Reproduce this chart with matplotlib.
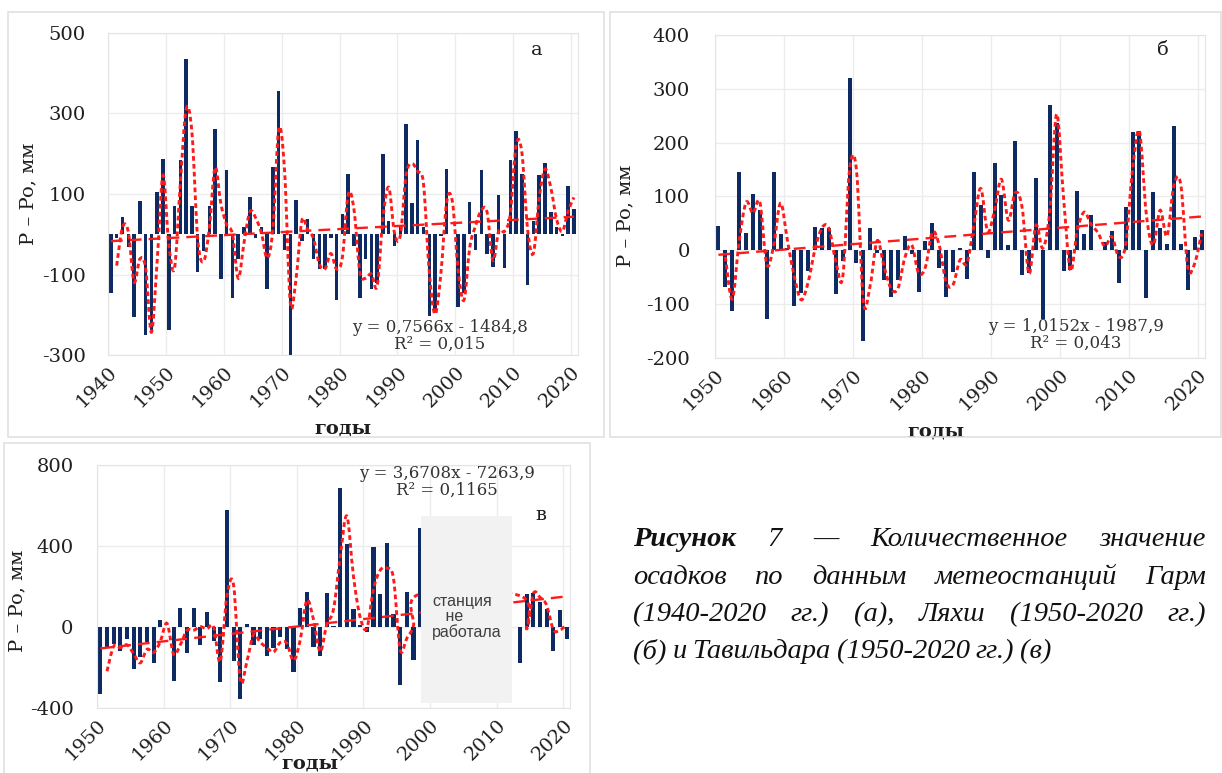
import numpy as np
import matplotlib
matplotlib.use("Agg")
import matplotlib.pyplot as plt
from matplotlib.path import Path
from matplotlib.patches import PathPatch, Rectangle

W, H = 1222, 773
plt.rcParams['font.family'] = ['DejaVu Serif']
plt.rcParams['axes.unicode_minus'] = False

# --- data: P - Po, mm ---
years_a = np.arange(1940, 2021)
garm = [-146, -10, 44, -31, -206, 83, -250, -237, 106, 187,
        -237, 70, 185, 436, 70, -94, -42, 70, 262, -111,
        159, -158, -61, 19, 92, -10, 17, -136, 166, 357,
        -38, -304, 86, -17, 39, -61, -86, -86, -10, -164,
        50, 150, -28, -158, -61, -136, -121, 200, 33, -28,
        21, 274, 77, 235, 17, -203, -194, -5, 162, 0,
        -181, -146, 81, -39, 159, -50, -81, 97, -83, 185,
        257, 150, -127, 33, 148, 176, 56, 19, -5, 121, 62]

years_b = np.arange(1950, 2021)
lyakhsh = [45, -69, -112, 145, 33, 105, 74, -127, 145, 31,
           5, -104, -80, -38, 43, 41, 41, -81, -20, 321,
           -23, -169, 41, -5, -55, -87, -55, 27, -7, -78,
           17, 51, -33, -86, -41, 5, -54, 145, 85, -15,
           162, 102, 10, 204, -45, -42, 135, -127, 270, 236,
           -39, -36, 111, 31, 65, 0, 15, 36, -60, 80,
           220, 222, -89, 108, 41, 12, 231, 12, -74, 25, 37]

nan = np.nan
years_c = np.arange(1950, 2021)
tavildara = [-331, -106, -85, -119, -57, -207, -147, -73, -180, 36,
             0, -269, 93, -126, 93, -90, 72, -69, -274, 580,
             -167, -356, 16, -91, -60, -144, -103, -50, -110, -222,
             92, 172, -100, -143, 170, 5, 685, 411, 87, 10,
             -23, 395, 165, 416, 66, -286, 174, -162, 489, nan,
             nan, nan, nan, nan, nan, nan, nan, nan, nan, nan,
             nan, nan, nan, -180, 162, 168, 124, 90, -117, 86, -60]

trend_a = (0.7566, -1484.8)
trend_b = (1.0152, -1987.9)
trend_c = (3.6708, -7263.9)
eq_a = "y = 0,7566x - 1484,8\nR² = 0,015"
eq_b = "y = 1,0152x - 1987,9\nR² = 0,043"
eq_c = "y = 3,6708x - 7263,9\nR² = 0,1165"

BAR = '#0d2a63'
RED = '#ff1a1a'
TXT = '#1e1e1e'

fig = plt.figure(figsize=(W / 100, H / 100), dpi=100)


def px(x0, y0, x1, y1):
    return [x0 / W, 1 - y1 / H, (x1 - x0) / W, (y1 - y0) / H]


def smooth_line(ax, x, y, **kw):
    # Excel-like smoothed line (Catmull-Rom as Bezier)
    x = np.asarray(x, float)
    y = np.asarray(y, float)
    n = len(x)
    verts = [(x[0], y[0])]
    codes = [Path.MOVETO]
    for i in range(n - 1):
        xa, ya = (x[i - 1], y[i - 1]) if i > 0 else (x[i], y[i])
        xb, yb = (x[i + 2], y[i + 2]) if i + 2 < n else (x[i + 1], y[i + 1])
        c1 = (x[i] + (x[i + 1] - xa) / 6, y[i] + (y[i + 1] - ya) / 6)
        c2 = (x[i + 1] - (xb - x[i]) / 6, y[i + 1] - (yb - y[i]) / 6)
        verts += [c1, c2, (x[i + 1], y[i + 1])]
        codes += [Path.CURVE4] * 3
    ax.add_patch(PathPatch(Path(verts, codes), fill=False, **kw))


def panel(rect, years, vals, trend, ylim, yticks, xlim, width, eq, eq_xy, letter, letter_xy,
          ylab_xy, xlab_xy, ypad):
    ax = fig.add_axes(px(*rect))
    vals = np.asarray(vals, float)
    x = years + 0.5
    ax.bar(x, np.nan_to_num(vals), width=width, color=BAR, zorder=2)
    ok = ~np.isnan(vals)
    xv, yv = x[ok], vals[ok]
    ma = (yv[1:] + yv[:-1]) / 2
    smooth_line(ax, xv[1:], ma, edgecolor=RED, lw=2.1, linestyle=(0, (1.6, 1.1)), zorder=4)
    ax.plot(x, trend[0] * years + trend[1], color=RED, lw=1.7, linestyle=(0, (5, 3)), zorder=3)
    ax.set_xlim(*xlim)
    ax.set_ylim(*ylim)
    ax.set_yticks(yticks)
    ax.set_xticks(np.arange(xlim[0], 2021, 10))
    ax.grid(True, color='#ececec', lw=1)
    ax.set_axisbelow(True)
    for s in ax.spines.values():
        s.set_color('#e4e4e4')
    ax.tick_params(length=0, labelsize=14, colors=TXT)
    ax.tick_params(axis='y', pad=ypad)
    ax.tick_params(axis='x', pad=6)
    for lbl in ax.get_xticklabels():
        lbl.set_rotation(45)
        lbl.set_ha('right')
        lbl.set_rotation_mode('anchor')
    ax.set_ylabel('P – Po, мм', fontsize=14, color=TXT)
    ax.yaxis.set_label_coords(*ylab_xy)
    ax.set_xlabel('годы', fontsize=14, fontweight='bold', color=TXT)
    ax.xaxis.set_label_coords(*xlab_xy)
    fig.text(eq_xy[0] / W, 1 - eq_xy[1] / H, eq, ha='center', va='center', fontsize=12,
             color='#333333', linespacing=1.05)
    fig.text(letter_xy[0] / W, 1 - letter_xy[1] / H, letter, ha='center', va='center',
             fontsize=14, color=TXT)
    return ax


# chart frames
for x0, y0, x1, y1 in [(8, 12, 604, 437), (610, 12, 1221, 437), (4, 443, 590, 775)]:
    fig.patches.append(Rectangle((x0 / W, 1 - y1 / H), (x1 - x0) / W, (y1 - y0) / H,
                                 transform=fig.transFigure, fill=False,
                                 edgecolor='#e0e0e0', lw=1.2))

panel((108, 33, 578, 355), years_a, garm, trend_a, (-300, 500), [-300, -100, 100, 300, 500],
      (1940, 2021.2), 0.6, eq_a, (440, 336), 'а', (537, 50), (-0.15, 0.5), (0.5, -0.2), 16)
panel((715, 35, 1205, 358), years_b, lyakhsh, trend_b, (-200, 400), np.arange(-200, 401, 100),
      (1950, 2021), 0.58, eq_b, (1076, 335), 'б', (1163, 50), (-0.165, 0.44), (0.45, -0.2), 18)
axc = panel((97, 465, 570, 708), years_c, tavildara, trend_c, (-400, 800), [-400, 0, 400, 800],
            (1950, 2021), 0.62, eq_c, (447, 482), 'в', (541, 515), (-0.15, 0.44), (0.45, -0.19), 17)

# gap where the station did not work
axc.add_patch(Rectangle((1998.7, -375), 13.6, 925, facecolor='#f2f2f2', edgecolor='none', zorder=6))
axc.text(2005.5, 50, 'станция\n   не\nработала', ha='center', va='center', fontsize=11.5,
         family=['Liberation Sans'], color='#404040', linespacing=1.0, zorder=7,
         multialignment='left')

# caption, justified
cap_lines = [
    [('Рисунок', 'bold'), ('7', 'normal'), ('—', 'normal'), ('Количественное', 'normal'), ('значение', 'normal')],
    [(w, 'normal') for w in 'осадков по данным метеостанций Гарм'.split()],
    [(w, 'normal') for w in '(1940-2020 гг.) (а), Ляхш (1950-2020 гг.)'.split()],
    [(w, 'normal') for w in '(б) и Тавильдара (1950-2020 гг.) (в)'.split()],
]
baselines = [546, 584, 621, 658]
left, right = 633, 1206
renderer = fig.canvas.get_renderer()
for li, (words, yb) in enumerate(zip(cap_lines, baselines)):
    texts = []
    for w, fw in words:
        t = fig.text(0, 1 - yb / H, w, fontsize=20.5, style='italic', fontweight=fw,
                     family=['Liberation Serif'], color='#111111', va='baseline', ha='left')
        texts.append(t)
    widths = [t.get_window_extent(renderer).width for t in texts]
    if li < 3:
        gap = (right - left - sum(widths)) / (len(words) - 1)
    else:
        gap = 6
    xpos = left
    for t, wd in zip(texts, widths):
        t.set_x(xpos / W)
        xpos += wd + gap

fig.savefig('out.png', dpi=100)
